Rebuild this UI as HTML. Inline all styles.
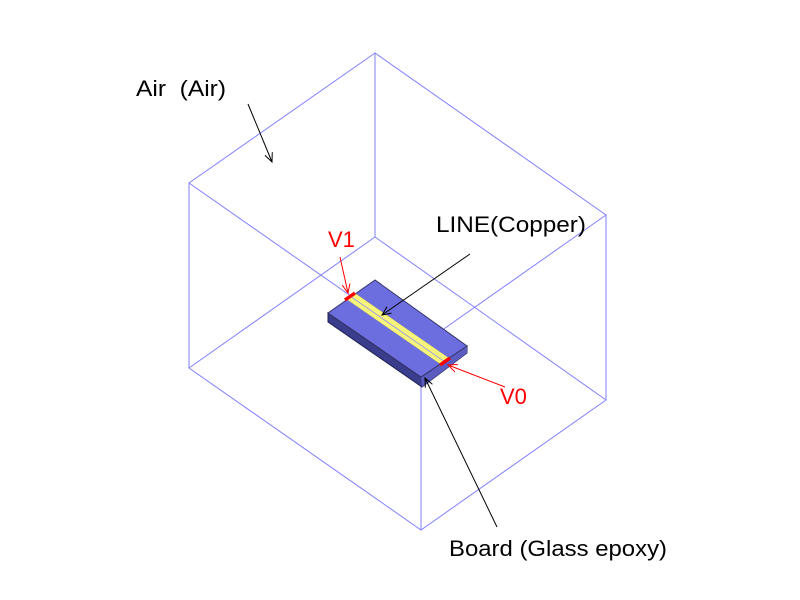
<!DOCTYPE html>
<html><head><style>body{margin:0;background:#fff}svg{display:block}text{font-family:"Liberation Sans",sans-serif;font-size:22px}</style></head>
<body><svg width="800" height="600" viewBox="0 0 800 600">
<defs><marker id="ab" markerWidth="10" markerHeight="10" refX="9" refY="5" orient="auto" markerUnits="userSpaceOnUse"><path d="M0,1 L9,5 L0,9" fill="none" stroke="#000" stroke-width="1"/></marker>
<marker id="ar" markerWidth="10" markerHeight="10" refX="9" refY="5" orient="auto" markerUnits="userSpaceOnUse"><path d="M0,1 L9,5 L0,9" fill="none" stroke="#f00" stroke-width="1"/></marker></defs>
<g stroke="#8080ff" stroke-width="1" fill="none">
<polygon points="375,53 189,183 189,368 421,530 606,400 606,215"/>
<line x1="375" y1="53" x2="375" y2="237"/>
<line x1="375" y1="237" x2="189" y2="368"/>
<line x1="375" y1="237" x2="606" y2="400"/>
<line x1="189" y1="183" x2="421" y2="345"/>
<line x1="606" y1="215" x2="421" y2="345"/>
<line x1="421" y1="345" x2="421" y2="530"/>
</g>
<polygon points="328,313 421,377 467,346 467,353 422,387 328,322" fill="#3a3c8c" stroke="#222255" stroke-width="1"/>
<polygon points="421,377 467,346 467,353 422,387" fill="#5a5cc0"/>
<polygon points="375,280 328,313 421,377 467,346" fill="#6c6ee0" stroke="#333366" stroke-width="1"/>
<polygon points="346,299 355,293 449,358 440,364" fill="#f6f47a" stroke="#888" stroke-width="0.5"/>
<line x1="350" y1="296" x2="445" y2="362" stroke="#8080ff" stroke-width="0.7"/>
<line x1="345" y1="300" x2="355" y2="293" stroke="#f00" stroke-width="3.5"/>
<line x1="440" y1="365" x2="450" y2="358" stroke="#f00" stroke-width="3.5"/>
<g stroke="#000" stroke-width="1">
<line x1="248" y1="104" x2="272" y2="162" marker-end="url(#ab)"/>
<line x1="470" y1="254" x2="382" y2="315" marker-end="url(#ab)"/>
<line x1="497" y1="527" x2="425" y2="378" marker-end="url(#ab)"/>
</g>
<g stroke="#f00" stroke-width="1">
<line x1="340" y1="257" x2="348" y2="293" marker-end="url(#ar)"/>
<line x1="505" y1="387" x2="448" y2="365" marker-end="url(#ar)"/>
</g>
<text x="136" y="96" textLength="90" lengthAdjust="spacingAndGlyphs" xml:space="preserve">Air  (Air)</text>
<text x="436" y="232" textLength="150" lengthAdjust="spacingAndGlyphs">LINE(Copper)</text>
<text x="328" y="247" fill="#f00">V1</text>
<text x="500" y="404" fill="#f00">V0</text>
<text x="449" y="556" textLength="218" lengthAdjust="spacingAndGlyphs">Board (Glass epoxy)</text>
</svg></body></html>
